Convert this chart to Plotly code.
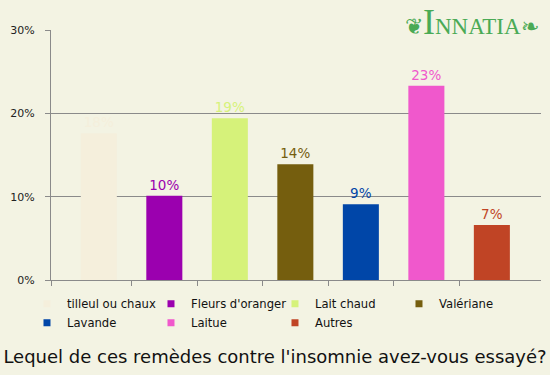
import plotly.graph_objects as go

categories = ["tilleul ou chaux", "Fleurs d'oranger", "Lait chaud", "Valériane",
              "Lavande", "Laitue", "Autres"]
values = [17.6, 10.1, 19.4, 13.9, 9.1, 23.3, 6.6]
colors = ["#F5EFDC", "#9B00AF", "#D6F27A", "#755E0E", "#0046A8", "#F058CC", "#C04425"]
y_ticks = [0, 10, 20, 30]
y_tick_labels = ["0%", "10%", "20%", "30%"]
title_text = "Lequel de ces remèdes contre l'insomnie avez-vous essayé?"

BG = "#F3F3E3"
GRID = "#8A8A8A"
FONT = "DejaVu Sans"

idx = list(range(len(categories)))

fig = go.Figure()
fig.add_trace(go.Bar(
    x=idx, y=values,
    marker=dict(color=colors, line=dict(width=0)),
    text=[f"{v:.0f}%" for v in values],
    textposition="outside",
    textfont=dict(family=FONT, size=13.5, color=colors),
    cliponaxis=False,
    showlegend=False,
    hoverinfo="skip",
))

for name, c in zip(categories, colors):
    fig.add_trace(go.Scatter(
        x=[None], y=[None], mode="markers", name=name,
        marker=dict(symbol="square", size=7, color=c, line=dict(width=0)),
    ))

x_start = -0.73
fig.update_layout(
    width=550, height=375,
    margin=dict(l=51, r=9, t=30, b=95, autoexpand=False),
    paper_bgcolor=BG, plot_bgcolor=BG,
    bargap=0.45,
    font=dict(family=FONT, size=12, color="#111"),
    xaxis=dict(
        range=[x_start, len(categories) - 0.25],
        tickvals=[x_start] + [i + 0.5 for i in idx[:-1]],
        showticklabels=False, ticks="outside", ticklen=5, tickcolor=GRID,
        showgrid=False, zeroline=False,
        showline=True, linecolor=GRID, linewidth=1,
    ),
    yaxis=dict(
        range=[0, 30], tickvals=y_ticks, ticktext=y_tick_labels,
        ticks="outside", ticklen=5, tickcolor=GRID,
        tickfont=dict(family=FONT, size=11, color="#222"),
        ticklabelstandoff=8,
        showgrid=True, gridcolor=GRID, gridwidth=1,
        zeroline=False, showline=True, linecolor=GRID, linewidth=1,
    ),
    legend=dict(
        orientation="h", x=-0.049, xanchor="left", y=-0.037, yanchor="top",
        entrywidth=79, entrywidthmode="pixels",
        font=dict(family=FONT, size=11.6, color="#111"),
        bgcolor="rgba(0,0,0,0)", itemclick=False, itemdoubleclick=False,
        tracegroupgap=0,
    ),
    title=dict(
        text=title_text, x=0.5, xref="container", xanchor="center",
        y=0.048, yref="container", yanchor="middle",
        font=dict(family=FONT, size=18, color="#111"),
    ),
    annotations=[dict(
        text="<span style='font-size:22px'>❦</span><span style='font-size:36px'>I</span>NNATIA<span style='font-size:22px'>❧</span>",
        xref="paper", yref="paper", x=1.0, y=1.0, xanchor="right", yanchor="top",
        yshift=30, showarrow=False,
        font=dict(family="Liberation Serif", size=23, color="#4AAA55"),
    )],
)

fig.write_html("out.html", config={"displayModeBar": False},
               post_script="document.body.style.margin='0px';")
